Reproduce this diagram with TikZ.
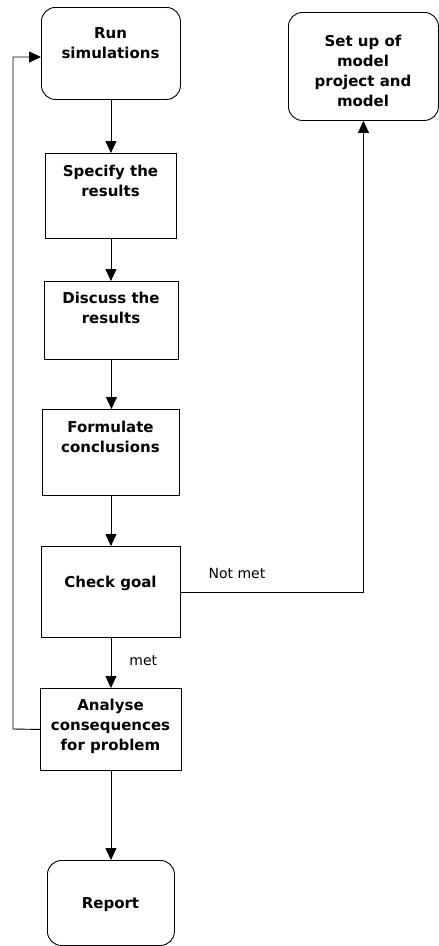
\documentclass[tikz,border=0pt]{standalone}
\usepackage{fontspec}
\setmainfont{DejaVu Sans}
\usetikzlibrary{arrows.meta}
\begin{document}
\begin{tikzpicture}[x=1pt,y=-1pt,
  box/.style={draw, line width=0.9pt, inner sep=0pt, anchor=north west},
  rbox/.style={box, rounded corners=14pt},
  lbl/.style={font=\fontsize{15}{20}\selectfont\bfseries, align=center, inner sep=0pt},
  note/.style={font=\fontsize{14}{16}\selectfont, inner sep=0pt},
  flow/.style={draw, line width=0.9pt, -{Triangle[length=12pt,width=11pt]}}]
\useasboundingbox (0,0) rectangle (439,946);

% process boxes
\node[rbox, minimum width=139pt, minimum height=92pt] (run)    at (41,7)   {};
\node[rbox, minimum width=150pt, minimum height=108pt] (setup) at (288,12) {};
\node[box,  minimum width=131pt, minimum height=85pt] (spec)   at (45,153) {};
\node[box,  minimum width=134pt, minimum height=78pt] (disc)   at (44,281) {};
\node[box,  minimum width=137pt, minimum height=86pt] (form)   at (42,409) {};
\node[box,  minimum width=139pt, minimum height=91pt] (check)  at (41,546) {};
\node[box,  minimum width=141pt, minimum height=82pt] (anal)   at (40,688) {};
\node[rbox, minimum width=127pt, minimum height=85pt] (report) at (47,860) {};

% box texts
\node[lbl] (runT)    at (110.5,43)  {Run\\simulations};
\node[lbl] (setupT)  at (363,71)    {Set up of\\model\\project and\\model};
\node[lbl] (specT)   at (110.5,181) {Specify the\\results};
\node[lbl] (discT)   at (111,308)   {Discuss the\\results};
\node[lbl] (formT)   at (110.5,437) {Formulate\\conclusions};
\node[lbl] (checkT)  at (110.5,583) {Check goal};
\node[lbl] (analT)   at (110.5,726) {Analyse\\consequences\\for problem};
\node[lbl] (reportT) at (110.5,905) {Report};

% main sequence
\draw[flow] (run.south) -- (run.south |- spec.north);
\draw[flow] (spec.south) -- (spec.south |- disc.north);
\draw[flow] (disc.south) -- (disc.south |- form.north);
\draw[flow] (form.south) -- (form.south |- check.north);
\draw[flow] (check.south) -- (check.south |- anal.north)
  node[note, pos=0.45, right=18pt] (metL) {met};
\draw[flow] (anal.south) -- (anal.south |- report.north);

% goal not met: back to model set-up
\draw[flow] (check.east) -| (setup.south);
\node[note] (notmetL) at (237,573) {Not met};

% iteration loop back to the simulations
\coordinate (loopA) at (13,729);
\coordinate (loopB) at (13,57);
\draw[flow] (anal.west) -- (loopA) -- (loopB) -- (run.west |- loopB);
\end{tikzpicture}
\end{document}
